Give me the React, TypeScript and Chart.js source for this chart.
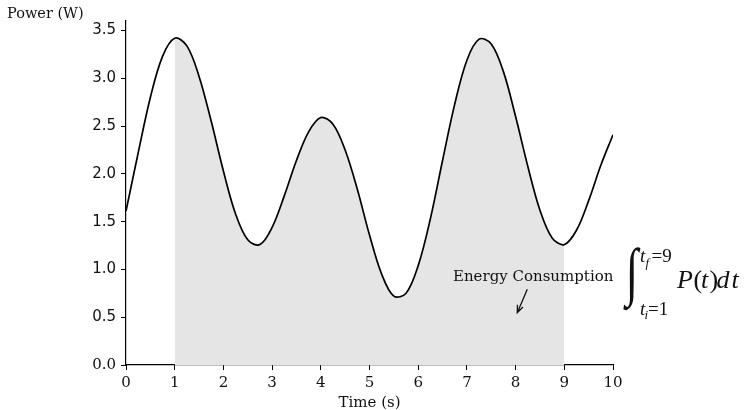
import React, { useEffect, useRef } from 'react';
import { Chart, registerables } from 'chart.js';

Chart.register(...registerables);

// ---- data (every 0.25 s) ----
const timeValues = [
  0, 0.25, 0.5, 0.75, 1.0, 1.25, 1.5, 1.75, 2.0, 2.25,
  2.5, 2.75, 3.0, 3.25, 3.5, 3.75, 4.0, 4.25, 4.5, 4.75,
  5.0, 5.25, 5.5, 5.75, 6.0, 6.25, 6.5, 6.75, 7.0, 7.25,
  7.5, 7.75, 8.0, 8.25, 8.5, 8.75, 9.0, 9.25, 9.5, 9.75, 10,
];
const powerValues = [
  1.61, 2.22, 2.8, 3.23, 3.42, 3.34, 3.02, 2.55, 2.03, 1.58,
  1.31, 1.26, 1.44, 1.77, 2.14, 2.44, 2.59, 2.52, 2.25, 1.84,
  1.36, 0.95, 0.72, 0.75, 1.04, 1.53, 2.14, 2.73, 3.19, 3.41,
  3.36, 3.07, 2.6, 2.08, 1.62, 1.33, 1.26, 1.41, 1.72, 2.09, 2.41,
];
const xTickValues = [0, 1, 2, 3, 4, 5, 6, 7, 8, 9, 10];
const yTickValues = [0, 0.5, 1.0, 1.5, 2.0, 2.5, 3.0, 3.5];
const fillStart = 1;
const fillEnd = 9;

const xAxisTitle = 'Time (s)';
const yAxisTitle = 'Power (W)';
const annotationText = 'Energy Consumption';

const TEXT = '#111';

export default function App() {
  const ref = useRef<HTMLCanvasElement>(null);

  useEffect(() => {
    const canvas = ref.current;
    if (!canvas) return;

    const linePoints = timeValues.map((t, i) => ({ x: t, y: powerValues[i] }));
    const fillPoints = linePoints.filter((p) => p.x >= fillStart && p.x <= fillEnd);

    const overlay = {
      id: 'overlay',
      afterDraw(chart: any) {
        const ctx = chart.ctx as CanvasRenderingContext2D;
        ctx.save();
        ctx.fillStyle = TEXT;
        ctx.textAlign = 'left';
        ctx.textBaseline = 'alphabetic';

        // y axis label (horizontal, top-left)
        ctx.font = '14.5px "DejaVu Serif"';
        ctx.fillText(yAxisTitle, 7, 18);

        // annotation text
        ctx.font = '15px "DejaVu Serif"';
        ctx.fillText(annotationText, 453, 281);

        // arrow
        const sx = 527.3, sy = 289.3, tx = 517.3, ty = 312.7;
        ctx.strokeStyle = TEXT;
        ctx.lineWidth = 1.3;
        ctx.beginPath();
        ctx.moveTo(sx, sy);
        ctx.lineTo(tx, ty);
        const ang = Math.atan2(sy - ty, sx - tx);
        const hl = 8, ha = (22 * Math.PI) / 180;
        ctx.moveTo(tx + hl * Math.cos(ang + ha), ty + hl * Math.sin(ang + ha));
        ctx.lineTo(tx, ty);
        ctx.lineTo(tx + hl * Math.cos(ang - ha), ty + hl * Math.sin(ang - ha));
        ctx.stroke();

        // integral sign fitted into its box
        const box = { l: 623, r: 641, t: 247, b: 311 };
        ctx.font = '80px "Liberation Serif"';
        const m = ctx.measureText('\u222B');
        const gw = m.actualBoundingBoxLeft + m.actualBoundingBoxRight;
        const gh = m.actualBoundingBoxAscent + m.actualBoundingBoxDescent;
        if (gw > 0 && gh > 0) {
          ctx.save();
          ctx.translate(box.l, box.t);
          ctx.scale((box.r - box.l) / gw, (box.b - box.t) / gh);
          ctx.fillText('\u222B', m.actualBoundingBoxLeft, m.actualBoundingBoxAscent);
          ctx.restore();
        }

        // upper limit t_f=9
        ctx.font = 'italic 19px "Liberation Serif"';
        ctx.fillText('t', 640, 262);
        ctx.font = 'italic 13px "Liberation Serif"';
        ctx.fillText('f', 645.5, 267);
        ctx.font = '19px "Liberation Serif"';
        ctx.fillText('=9', 651.5, 262);

        // lower limit t_i=1
        ctx.font = 'italic 19px "Liberation Serif"';
        ctx.fillText('t', 640, 315);
        ctx.font = 'italic 13px "Liberation Serif"';
        ctx.fillText('i', 644.5, 319);
        ctx.font = '19px "Liberation Serif"';
        ctx.fillText('=1', 648, 315);

        // P(t)dt
        const it = 'italic 26px "Liberation Serif"';
        const up = '26px "Liberation Serif"';
        const pieces: [string, string, number][] = [
          ['P', it, 677],
          ['(', up, 693.5],
          ['t', it, 701],
          [')', up, 709.5],
          ['d', it, 716.5],
          ['t', it, 731.5],
        ];
        for (const [s, f, x] of pieces) {
          ctx.font = f;
          ctx.fillText(s, x, 287.5);
        }
        ctx.restore();
      },
    };

    const chart = new Chart(canvas, {
      type: 'line',
      data: {
        datasets: [
          {
            data: linePoints,
            borderColor: '#000',
            borderWidth: 1.7,
            fill: false,
            pointRadius: 0,
            tension: 0.35,
          },
          {
            data: fillPoints,
            borderColor: 'rgba(0,0,0,0)',
            borderWidth: 0,
            backgroundColor: 'rgb(229,229,229)',
            fill: 'origin',
            pointRadius: 0,
            tension: 0.35,
          },
        ],
      },
      options: {
        responsive: false,
        animation: false,
        devicePixelRatio: 1,
        layout: { padding: { left: 0, right: 132, top: 21, bottom: 0 } },
        plugins: {
          legend: { display: false },
          tooltip: { enabled: false },
        },
        scales: {
          x: {
            type: 'linear',
            min: 0,
            max: 10,
            afterFit: (s: any) => {
              s.height = 45;
            },
            afterBuildTicks: (s: any) => {
              s.ticks = xTickValues.map((v) => ({ value: v }));
            },
            ticks: {
              color: TEXT,
              padding: 4,
              maxRotation: 0,
              autoSkip: false,
              font: { family: '"DejaVu Serif"', size: 15 },
              callback: (v: any) => String(v),
            },
            grid: {
              display: true,
              drawOnChartArea: false,
              drawTicks: true,
              tickLength: 5,
              color: '#000',
              tickColor: '#000',
              tickWidth: 1,
            },
            border: { display: true, color: '#000', width: 1.2 },
            title: {
              display: true,
              text: xAxisTitle,
              color: TEXT,
              font: { family: '"DejaVu Serif"', size: 15 },
              padding: { top: 0, bottom: -2 },
            },
          },
          y: {
            type: 'linear',
            min: 0,
            max: 3.6,
            afterFit: (s: any) => {
              s.width = 126;
            },
            afterBuildTicks: (s: any) => {
              s.ticks = yTickValues.map((v) => ({ value: v }));
            },
            ticks: {
              color: TEXT,
              padding: 5,
              autoSkip: false,
              font: (c: any) =>
                c.tick && c.tick.value === 0
                  ? { family: '"DejaVu Serif"', size: 15 }
                  : { family: '"DejaVu Sans"', size: 15 },
              callback: (v: any) => Number(v).toFixed(1),
            },
            grid: {
              display: true,
              drawOnChartArea: false,
              drawTicks: true,
              tickLength: 5,
              color: '#000',
              tickColor: '#000',
              tickWidth: 1,
            },
            border: { display: true, color: '#000', width: 1.2 },
          },
        },
      },
      plugins: [overlay],
    } as any);

    return () => {
      chart.destroy();
    };
  }, []);

  return (
    <canvas
      ref={ref}
      width={745}
      height={410}
      style={{ position: 'absolute', left: 0, top: 0, display: 'block', background: '#fff' }}
    />
  );
}
